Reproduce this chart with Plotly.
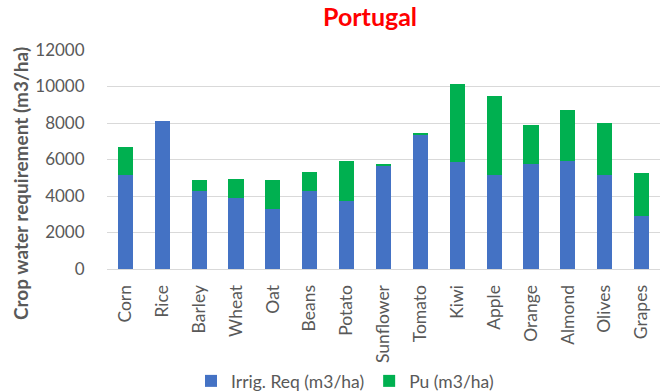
import plotly.graph_objects as go

crops = ["Corn", "Rice", "Barley", "Wheat", "Oat", "Beans", "Potato", "Sunflower",
         "Tomato", "Kiwi", "Apple", "Orange", "Almond", "Olives", "Grapes"]
irrig_req = [5150, 8100, 4250, 3900, 3300, 4250, 3700, 5650, 7350, 5850, 5150, 5750, 5900, 5150, 2900]
pu = [1550, 0, 650, 1050, 1600, 1050, 2200, 80, 60, 4300, 4350, 2150, 2800, 2850, 2350]
y_ticks = [0, 2000, 4000, 6000, 8000, 10000, 12000]

W, H = 662, 392
ML, MR, MT, MB = 107, 2, 50, 123
FONT = "Lato, 'Liberation Sans', sans-serif"
GRAY = "#595959"

fig = go.Figure()
fig.add_trace(go.Bar(x=crops, y=irrig_req, name="Irrig. Req (m3/ha)",
                     marker=dict(color="#4472C4", line=dict(width=0))))
fig.add_trace(go.Bar(x=crops, y=pu, name="Pu (m3/ha)",
                     marker=dict(color="#00B050", line=dict(width=0))))

pw = W - ML - MR
ph = H - MT - MB

def px_x(p):
    return (p - ML) / pw

def px_y(p):
    return (H - MB - p) / ph

fig.update_layout(
    width=W, height=H,
    margin=dict(l=ML, r=MR, t=MT, b=MB, pad=0, autoexpand=False),
    barmode="stack", bargap=0.59,
    plot_bgcolor="white", paper_bgcolor="white",
    font=dict(family=FONT, color=GRAY, size=17),
    showlegend=True,
    legend=dict(orientation="h", x=px_x(345), xanchor="center",
                y=px_y(381), yanchor="middle",
                font=dict(size=17.5, color=GRAY), itemwidth=30,
                traceorder="normal", bgcolor="rgba(0,0,0,0)"),
    annotations=[
        dict(text="<b>Portugal</b>", x=px_x(370), y=px_y(16), xref="paper", yref="paper",
             xanchor="center", yanchor="middle", showarrow=False,
             font=dict(family=FONT, size=25, color="#FF0000")),
        dict(text="<b>Crop water requirement (m3/ha)</b>", x=px_x(20), y=px_y(184),
             xref="paper", yref="paper", xanchor="center", yanchor="middle",
             textangle=-90, showarrow=False,
             font=dict(family=FONT, size=19, color=GRAY)),
    ],
)
fig.update_xaxes(tickangle=-90, showline=True, linecolor="#d9d9d9", linewidth=1,
                 ticks="outside", ticklen=8, tickcolor="rgba(0,0,0,0)",
                 automargin=False,
                 tickfont=dict(size=17.5, color=GRAY), showgrid=False)
fig.update_yaxes(range=[0, 12000], tickvals=y_ticks, tickformat="d",
                 showgrid=True, gridcolor="#d9d9d9", gridwidth=1,
                 zeroline=False, showline=False, ticks="outside",
                 ticklen=18, tickcolor="rgba(0,0,0,0)", automargin=False,
                 tickfont=dict(size=17, color=GRAY))

fig.write_html("out.html")
